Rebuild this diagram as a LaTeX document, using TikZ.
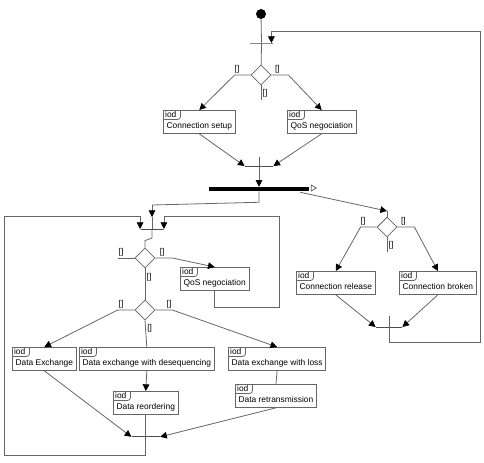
\documentclass[tikz,border=0pt]{standalone}
\usepackage{fontspec}
\setmainfont{Liberation Sans}
\usepackage{tikz}
\usetikzlibrary{arrows.meta, positioning, calc, shapes.geometric}
\tikzstyle{line} = [draw=black!60, line width=0.6pt]
\tikzstyle{arrow} = [line, -{Triangle[length=5pt, width=5pt, color=black]}]
\tikzstyle{decision} = [diamond, draw=black!60, line width=0.6pt, fill=white, minimum width=15pt, minimum height=15pt, inner sep=0pt, aspect=1]
\tikzstyle{guard} = [inner sep=1pt]
\tikzstyle{bar} = [rectangle, draw=black!70, line width=0.6pt, inner sep=0pt, minimum height=0pt]
\tikzstyle{forkbar} = [rectangle, fill=black, inner sep=0pt, minimum height=3pt]
\tikzstyle{start} = [circle, fill=black, inner sep=0pt, minimum size=7.5pt]
\newcommand\ppbb{path picture bounding box}
\tikzset{
	action/.style = {rectangle, draw=black!60, line width=0.6pt, anchor=north west,
		inner xsep=2.4pt, inner ysep=2.25pt, text height=11.25pt, text depth=1.5pt,
		path picture={\draw[black!60, line width=0.6pt, rounded corners=2pt]
			([yshift=-6.75pt] \ppbb.north west) -- ([yshift=-6.75pt, xshift=12.75pt] \ppbb.north west)
			-- ([xshift=12.75pt] \ppbb.north west);
			\node[anchor=north west, inner xsep=1pt, inner ysep=0.6pt, text height=4.6pt, text depth=0.4pt]
				at (\ppbb.north west) {iod};
		},% end of path picture
	}
}

\begin{document}
\begin{tikzpicture}[x=0.75pt, y=-0.75pt, font=\fontsize{6.3}{7.5}\selectfont]
\useasboundingbox (0,0) rectangle (484,462);
%----------------------------------------------------------------------------
% Placement of the top part
\node (start) [start] at (261,14) {};
\node (joinTop) [bar, minimum width=17.25pt] at (261.5,43) {};
\node (decTop) [decision] at (261,75) {};
\node (connSetup) [action] at (163,110) {Connection setup};
\node (qosTop) [action] at (287,110) {QoS negociation};
\node (joinMid) [bar, minimum width=21pt] at (259,166) {};
\node (forkBar) [forkbar, minimum width=75pt] at (259,189) {};

%----------------------------------------------------------------------------
% Placement of the connection end branch
\node (decRight) [decision] at (387,227) {};
\node (connRelease) [action] at (296,271) {Connection release};
\node (connBroken) [action] at (399,271) {Connection broken};
\node (joinRight) [bar, minimum width=19.5pt] at (389,327) {};

%----------------------------------------------------------------------------
% Placement of the data branch
\node (joinLeft) [bar, minimum width=17.25pt] at (152,229) {};
\node (decLeft) [decision] at (145,258) {};
\node (qosLeft) [action] at (180,267) {QoS negociation};
\node (decMid) [decision] at (145,310) {};
\node (dataEx) [action] at (12,347) {Data Exchange};
\node (dataDeseq) [action] at (79,347) {Data exchange with desequencing};
\node (dataLoss) [action] at (228,347) {Data exchange with loss};
\node (reorder) [action] at (113,391) {Data reordering};
\node (retrans) [action] at (235,384) {Data retransmission};
\node (joinBottom) [bar, minimum width=21pt] at ($(reorder.south)+(0,22)$) {};

\coordinate (loopRightBottom) at (480,342);
\coordinate (loopRightTop) at (480,31);
\coordinate (loopLeftBottom) at (4,455);
\coordinate (loopLeftTop) at (4,216);
\coordinate (qosLoopBottom) at (279,307);
\coordinate (qosLoopTop) at (279,216);
\coordinate (forkLeftBend) at (152,205);
\coordinate (forkLeftIn) at (152,217);
\coordinate (decRightIn) at (387,211);

%----------------------------------------------------------------------------
% Lines of the top part
\draw [line] (start) -- (joinTop);
\draw [line] (joinTop) -- (decTop);
\draw [arrow] (decTop.west) -- ++(-16,0) node[guard, pos=0.85, above] {[]} -- (connSetup.north);
\draw [arrow] (decTop.east) -- ++(17,0) node[guard, pos=0.35, above] {[]} -- (qosTop.north);
\draw [line] (decTop.south) -- ++(0,15) node[guard, midway, right] {[]};
\draw [arrow] (connSetup.south) -- (joinMid.west);
\draw [arrow] (qosTop.south) -- (joinMid.east);
\draw [line] (joinMid) -- ++(0,-9);
\draw [arrow] (joinMid) -- (forkBar);
\draw [line] ($(forkBar.east)+(2,-4)$) -- ++(0,6) -- ++(5,-3) -- cycle;

%----------------------------------------------------------------------------
% Lines of the connection end branch
\draw [arrow] ($(forkBar.south east)+(-9,1)$) -- (decRightIn);
\draw [line] (decRightIn) -- (decRight.north);
\draw [arrow] (decRight.west) -- ++(-16,0) node[guard, pos=0.85, above] {[]} -- (connRelease.north);
\draw [arrow] (decRight.east) -- ++(17,0) node[guard, pos=0.35, above] {[]} -- (connBroken.north);
\draw [line] (decRight.south) -- ++(0,15) node[guard, midway, right] {[]};
\draw [arrow] (connRelease.south) -- (joinRight.west);
\draw [arrow] (connBroken.south) -- (joinRight.east);
\draw [arrow] ($(joinRight)+(0,-11)$) |- (loopRightBottom) -- (loopRightTop) -| ($(joinTop.east)+(-2,0)$);

%----------------------------------------------------------------------------
% Lines of the data branch
\draw [line] (forkBar.south) -- ++(0,11) -- (forkLeftBend);
\draw [arrow] (forkLeftBend) -- (forkLeftIn);
\draw [line] (forkLeftIn) -- (joinLeft);
\draw [line] (joinLeft) -- ++(0,9) -- ($(decLeft.north)+(0,-7)$) -- (decLeft.north);
\draw [line] (decLeft.west) -- ++(-17,0) node[guard, pos=0.8, above] {[]};
\draw [arrow] (decLeft.east) -- ++(17,0) node[guard, pos=0.4, above] {[]} -- (qosLeft.north);
\draw [line] (decLeft.south) -- (decMid.north) node[guard, pos=0.3, right] {[]};
\draw [arrow] (qosLeft.south) |- (qosLoopBottom) -- (qosLoopTop) -| (joinLeft.east);

\draw [arrow] (decMid.west) -- ++(-17,0) node[guard, pos=0.8, above] {[]} -- (dataEx.north);
\draw [arrow] (decMid.east) -- ++(17,0) node[guard, pos=0.8, above] {[]} -- (dataLoss.north);
\draw [line] (decMid.south) -- (dataDeseq.north) node[guard, pos=0.3, right] {[]};
\draw [arrow] (dataDeseq.south) -- (reorder.north);
\draw [line] (dataLoss.south) -- (retrans.north);
\draw [arrow] (dataEx.south) -- (joinBottom.west);
\draw [arrow] (retrans.south) -- (joinBottom.east);
\draw [arrow] (reorder.south) |- (loopLeftBottom) -- (loopLeftTop) -| (joinLeft.west);

\end{tikzpicture}
\end{document}
